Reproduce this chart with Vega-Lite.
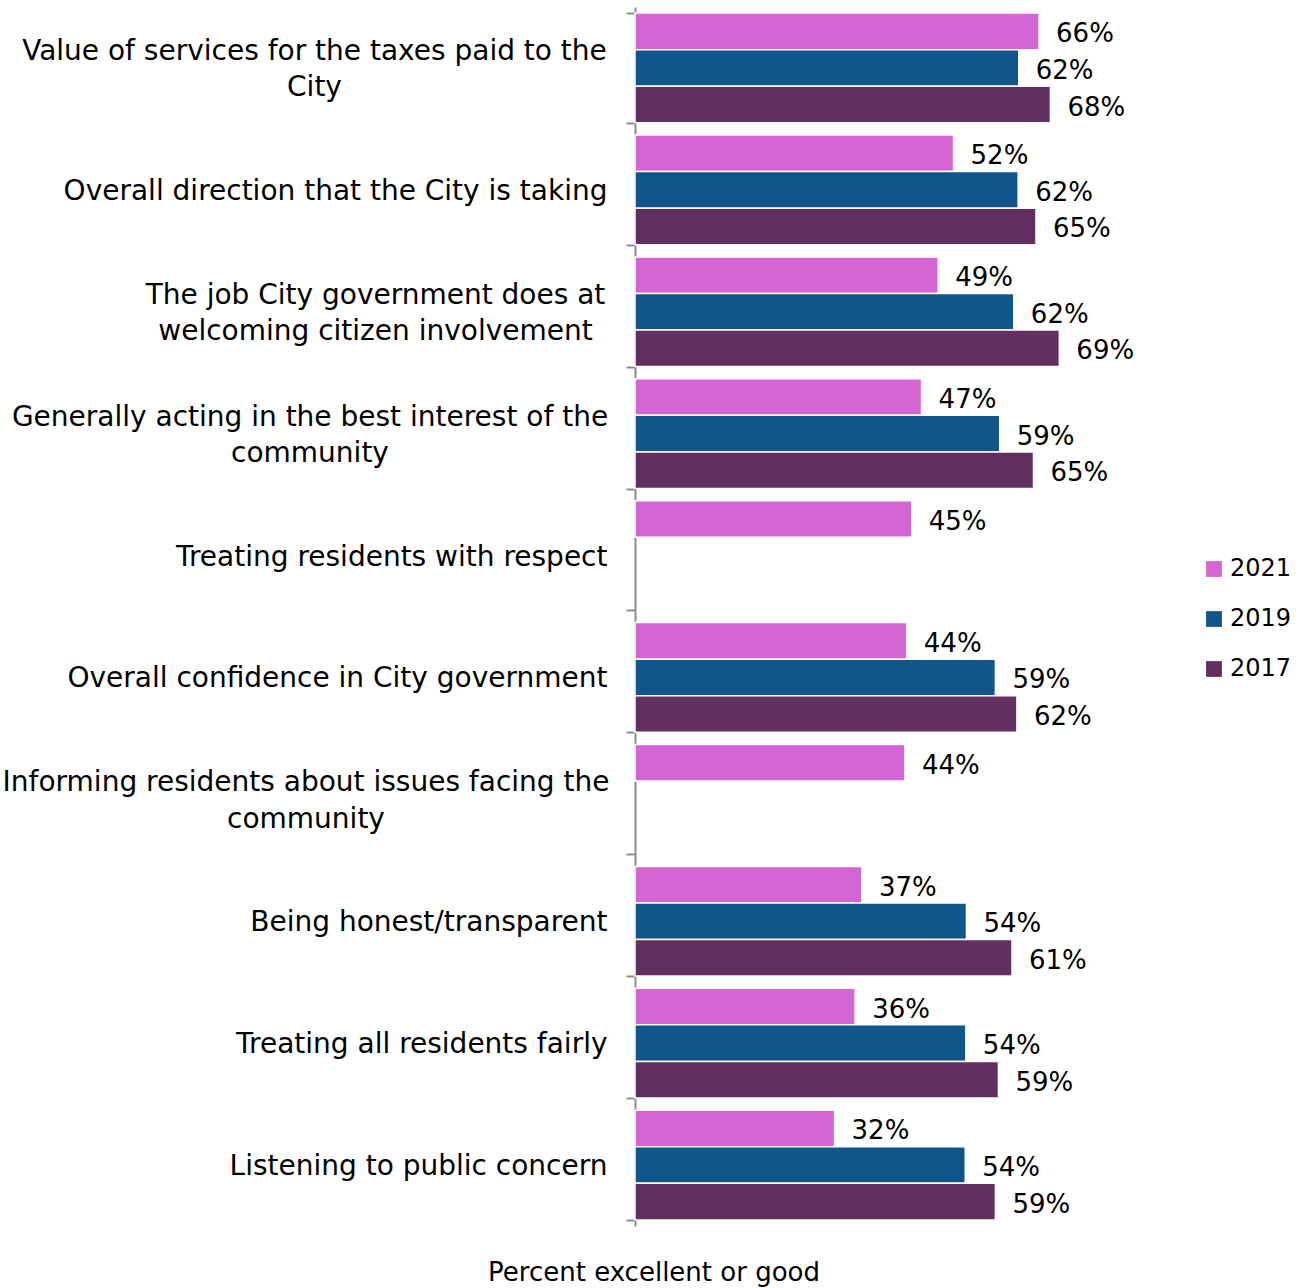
{
  "$schema": "https://vega.github.io/schema/vega-lite/v6.json",
  "autosize": "none",
  "width": 615,
  "height": 1219,
  "padding": {"left": 635, "top": 7, "right": 55, "bottom": 62},
  "background": "white",
  "config": {"view": {"stroke": null}, "font": "DejaVu Sans"},
  "data": {
    "values": [
      {"item": "Value of services for the taxes paid to the City", "year": "2021", "pct": 0.657},
      {"item": "Value of services for the taxes paid to the City", "year": "2019", "pct": 0.624},
      {"item": "Value of services for the taxes paid to the City", "year": "2017", "pct": 0.6755},
      {"item": "Overall direction that the City is taking", "year": "2021", "pct": 0.518},
      {"item": "Overall direction that the City is taking", "year": "2019", "pct": 0.623},
      {"item": "Overall direction that the City is taking", "year": "2017", "pct": 0.652},
      {"item": "The job City government does at welcoming citizen involvement", "year": "2021", "pct": 0.493},
      {"item": "The job City government does at welcoming citizen involvement", "year": "2019", "pct": 0.616},
      {"item": "The job City government does at welcoming citizen involvement", "year": "2017", "pct": 0.69},
      {"item": "Generally acting in the best interest of the community", "year": "2021", "pct": 0.466},
      {"item": "Generally acting in the best interest of the community", "year": "2019", "pct": 0.593},
      {"item": "Generally acting in the best interest of the community", "year": "2017", "pct": 0.648},
      {"item": "Treating residents with respect", "year": "2021", "pct": 0.45},
      {"item": "Overall confidence in City government", "year": "2021", "pct": 0.442},
      {"item": "Overall confidence in City government", "year": "2019", "pct": 0.586},
      {"item": "Overall confidence in City government", "year": "2017", "pct": 0.621},
      {"item": "Informing residents about issues facing the community", "year": "2021", "pct": 0.439},
      {"item": "Being honest/transparent", "year": "2021", "pct": 0.369},
      {"item": "Being honest/transparent", "year": "2019", "pct": 0.539},
      {"item": "Being honest/transparent", "year": "2017", "pct": 0.613},
      {"item": "Treating all residents fairly", "year": "2021", "pct": 0.358},
      {"item": "Treating all residents fairly", "year": "2019", "pct": 0.538},
      {"item": "Treating all residents fairly", "year": "2017", "pct": 0.591},
      {"item": "Listening to public concern", "year": "2021", "pct": 0.3245},
      {"item": "Listening to public concern", "year": "2019", "pct": 0.537},
      {"item": "Listening to public concern", "year": "2017", "pct": 0.586}
    ]
  },
  "encoding": {
    "y": {
      "field": "item",
      "type": "nominal",
      "sort": null,
      "scale": {
        "domain": [
          "Value of services for the taxes paid to the City",
          "Overall direction that the City is taking",
          "The job City government does at welcoming citizen involvement",
          "Generally acting in the best interest of the community",
          "Treating residents with respect",
          "Overall confidence in City government",
          "Informing residents about issues facing the community",
          "Being honest/transparent",
          "Treating all residents fairly",
          "Listening to public concern"
        ],
        "paddingInner": 0.1,
        "paddingOuter": 0.05
      },
      "axis": {
        "title": null,
        "tickBand": "extent",
        "tickSize": 9,
        "tickColor": "#8c8c8c",
        "tickWidth": 2,
        "domainColor": "#8c8c8c",
        "domainWidth": 2,
        "labelFontSize": 28,
        "labelColor": "#000000",
        "labelLimit": 0,
        "labelLineHeight": 36.5,
        "labelAlign": {
          "condition": {"test": "indexof(['Value of services for the taxes paid to the City', 'The job City government does at welcoming citizen involvement', 'Generally acting in the best interest of the community', 'Informing residents about issues facing the community'], datum.value) >= 0", "value": "center"},
          "value": "right"
        },
        "labelOffset": {
          "condition": {"test": "indexof(['Value of services for the taxes paid to the City', 'The job City government does at welcoming citizen involvement', 'Generally acting in the best interest of the community', 'Informing residents about issues facing the community'], datum.value) >= 0", "value": -16.5},
          "value": 1.5
        },
        "labelPadding": {
          "condition": [
            {"test": "datum.value == 'Value of services for the taxes paid to the City'", "value": 312},
            {"test": "datum.value == 'The job City government does at welcoming citizen involvement'", "value": 251},
            {"test": "datum.value == 'Generally acting in the best interest of the community'", "value": 316.5},
            {"test": "datum.value == 'Informing residents about issues facing the community'", "value": 320.5}
          ],
          "value": 19
        },
        "labelExpr": "datum.value == 'Value of services for the taxes paid to the City' ? ['Value of services for the taxes paid to the', 'City'] : datum.value == 'The job City government does at welcoming citizen involvement' ? ['The job City government does at', 'welcoming citizen involvement'] : datum.value == 'Generally acting in the best interest of the community' ? ['Generally acting in the best interest of the', 'community'] : datum.value == 'Informing residents about issues facing the community' ? ['Informing residents about issues facing the', 'community'] : datum.value"
      }
    },
    "yOffset": {
      "field": "year",
      "type": "nominal",
      "scale": {"domain": ["2021", "2019", "2017"], "paddingInner": 0, "paddingOuter": 0}
    },
    "x": {
      "field": "pct",
      "type": "quantitative",
      "scale": {"domain": [0, 1]},
      "axis": {
        "title": "Percent excellent or good",
        "labels": false,
        "ticks": false,
        "domain": false,
        "grid": false,
        "titleFontSize": 26,
        "titleFontWeight": "normal",
        "titleColor": "#000000",
        "titleX": 18.5,
        "titleY": 54,
        "titleAlign": "center",
        "titleBaseline": "alphabetic"
      }
    }
  },
  "layer": [
    {
      "mark": {"type": "bar", "stroke": "white", "strokeWidth": 1.5},
      "encoding": {
        "color": {
          "field": "year",
          "type": "nominal",
          "scale": {"domain": ["2021", "2019", "2017"], "range": ["#D466D3", "#10568A", "#632E60"]},
          "legend": {
            "title": null,
            "orient": "none",
            "legendX": 567,
            "legendY": 550,
            "symbolType": "square",
            "symbolSize": 250,
            "symbolStrokeWidth": 0,
            "labelFontSize": 24,
            "labelColor": "#000000",
            "labelOffset": 4,
            "rowPadding": 26
          }
        }
      }
    },
    {
      "mark": {"type": "text", "align": "left", "baseline": "middle", "dx": 17, "dy": 3, "fontSize": 26, "color": "#000000"},
      "encoding": {
        "text": {"field": "pct", "type": "quantitative", "format": ".0%"}
      }
    }
  ]
}
